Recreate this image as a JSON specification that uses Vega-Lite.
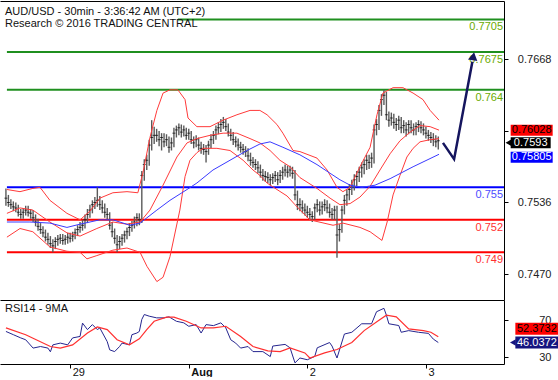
{
"$schema":"https://vega.github.io/schema/vega-lite/v6.json",
"padding":{"left":0,"top":1,"right":0,"bottom":0},
"background":"white",
"spacing":0,
"config":{"view":{"stroke":null},"font":"Liberation Sans","concat":{"spacing":0}},
"datasets":{
"bars":[
{"i":0,"h":0.7549,"l":0.7533,"c":0.7540},{"i":1,"h":0.7543,"l":0.7532,"c":0.7536},{"i":2,"h":0.7539,"l":0.7530,"c":0.7534},{"i":3,"h":0.7537,"l":0.7528,"c":0.7532},{"i":4,"h":0.7536,"l":0.7527,"c":0.7531},
{"i":5,"h":0.7534,"l":0.7523,"c":0.7527},{"i":6,"h":0.7530,"l":0.7521,"c":0.7525},{"i":7,"h":0.7531,"l":0.7521,"c":0.7527},{"i":8,"h":0.7533,"l":0.7524,"c":0.7529},{"i":9,"h":0.7533,"l":0.7523,"c":0.7527},
{"i":10,"h":0.7530,"l":0.7521,"c":0.7526},{"i":11,"h":0.7529,"l":0.7518,"c":0.7522},{"i":12,"h":0.7525,"l":0.7514,"c":0.7518},{"i":13,"h":0.7521,"l":0.7510,"c":0.7514},{"i":14,"h":0.7517,"l":0.7507,"c":0.7511},
{"i":15,"h":0.7514,"l":0.7504,"c":0.7508},{"i":16,"h":0.7511,"l":0.7500,"c":0.7504},{"i":17,"h":0.7508,"l":0.7497,"c":0.7502},{"i":18,"h":0.7505,"l":0.7494,"c":0.7498},{"i":19,"h":0.7502,"l":0.7490,"c":0.7496},
{"i":20,"h":0.7504,"l":0.7493,"c":0.7500},{"i":21,"h":0.7506,"l":0.7496,"c":0.7502},{"i":22,"h":0.7507,"l":0.7498,"c":0.7503},{"i":23,"h":0.7507,"l":0.7497,"c":0.7501},{"i":24,"h":0.7506,"l":0.7497,"c":0.7502},
{"i":25,"h":0.7508,"l":0.7498,"c":0.7504},{"i":26,"h":0.7508,"l":0.7499,"c":0.7503},{"i":27,"h":0.7509,"l":0.7500,"c":0.7505},{"i":28,"h":0.7512,"l":0.7502,"c":0.7508},{"i":29,"h":0.7515,"l":0.7505,"c":0.7511},
{"i":30,"h":0.7518,"l":0.7508,"c":0.7513},{"i":31,"h":0.7520,"l":0.7510,"c":0.7515},{"i":32,"h":0.7525,"l":0.7512,"c":0.7520},{"i":33,"h":0.7530,"l":0.7517,"c":0.7525},{"i":34,"h":0.7534,"l":0.7522,"c":0.7529},
{"i":35,"h":0.7538,"l":0.7526,"c":0.7534},{"i":36,"h":0.7541,"l":0.7530,"c":0.7536},{"i":37,"h":0.7550,"l":0.7532,"c":0.7538},{"i":38,"h":0.7542,"l":0.7529,"c":0.7534},{"i":39,"h":0.7538,"l":0.7526,"c":0.7531},
{"i":40,"h":0.7535,"l":0.7522,"c":0.7527},{"i":41,"h":0.7531,"l":0.7520,"c":0.7525},{"i":42,"h":0.7527,"l":0.7511,"c":0.7515},{"i":43,"h":0.7518,"l":0.7504,"c":0.7509},{"i":44,"h":0.7512,"l":0.7498,"c":0.7503},
{"i":45,"h":0.7506,"l":0.7490,"c":0.7497},{"i":46,"h":0.7505,"l":0.7493,"c":0.7500},{"i":47,"h":0.7507,"l":0.7496,"c":0.7503},{"i":48,"h":0.7510,"l":0.7499,"c":0.7506},{"i":49,"h":0.7513,"l":0.7502,"c":0.7509},
{"i":50,"h":0.7517,"l":0.7505,"c":0.7513},{"i":51,"h":0.7519,"l":0.7509,"c":0.7515},{"i":52,"h":0.7523,"l":0.7512,"c":0.7518},{"i":53,"h":0.7526,"l":0.7514,"c":0.7522},{"i":54,"h":0.7526,"l":0.7515,"c":0.7520},
{"i":55,"h":0.7565,"l":0.7517,"c":0.7561},{"i":56,"h":0.7576,"l":0.7556,"c":0.7571},{"i":57,"h":0.7580,"l":0.7566,"c":0.7575},{"i":58,"h":0.7594,"l":0.7570,"c":0.7589},{"i":59,"h":0.7612,"l":0.7584,"c":0.7596},
{"i":60,"h":0.7606,"l":0.7590,"c":0.7598},{"i":61,"h":0.7604,"l":0.7592,"c":0.7598},{"i":62,"h":0.7602,"l":0.7588,"c":0.7594},{"i":63,"h":0.7600,"l":0.7584,"c":0.7596},{"i":64,"h":0.7600,"l":0.7587,"c":0.7592},
{"i":65,"h":0.7599,"l":0.7588,"c":0.7594},{"i":66,"h":0.7597,"l":0.7582,"c":0.7587},{"i":67,"h":0.7596,"l":0.7584,"c":0.7591},{"i":68,"h":0.7605,"l":0.7587,"c":0.7600},{"i":69,"h":0.7607,"l":0.7596,"c":0.7603},
{"i":70,"h":0.7609,"l":0.7598,"c":0.7605},{"i":71,"h":0.7608,"l":0.7596,"c":0.7601},{"i":72,"h":0.7607,"l":0.7597,"c":0.7603},{"i":73,"h":0.7605,"l":0.7594,"c":0.7598},{"i":74,"h":0.7604,"l":0.7594,"c":0.7600},
{"i":75,"h":0.7602,"l":0.7590,"c":0.7594},{"i":76,"h":0.7597,"l":0.7586,"c":0.7591},{"i":77,"h":0.7598,"l":0.7587,"c":0.7594},{"i":78,"h":0.7596,"l":0.7584,"c":0.7589},{"i":79,"h":0.7592,"l":0.7581,"c":0.7586},
{"i":80,"h":0.7590,"l":0.7580,"c":0.7585},{"i":81,"h":0.7589,"l":0.7573,"c":0.7583},{"i":82,"h":0.7593,"l":0.7580,"c":0.7589},{"i":83,"h":0.7599,"l":0.7586,"c":0.7594},{"i":84,"h":0.7602,"l":0.7590,"c":0.7598},
{"i":85,"h":0.7607,"l":0.7594,"c":0.7603},{"i":86,"h":0.7610,"l":0.7599,"c":0.7605},{"i":87,"h":0.7613,"l":0.7601,"c":0.7608},{"i":88,"h":0.7615,"l":0.7604,"c":0.7610},{"i":89,"h":0.7613,"l":0.7602,"c":0.7606},
{"i":90,"h":0.7609,"l":0.7597,"c":0.7601},{"i":91,"h":0.7604,"l":0.7593,"c":0.7598},{"i":92,"h":0.7601,"l":0.7589,"c":0.7594},{"i":93,"h":0.7597,"l":0.7587,"c":0.7592},{"i":94,"h":0.7595,"l":0.7584,"c":0.7589},
{"i":95,"h":0.7592,"l":0.7582,"c":0.7587},{"i":96,"h":0.7590,"l":0.7580,"c":0.7585},{"i":97,"h":0.7588,"l":0.7578,"c":0.7583},{"i":98,"h":0.7586,"l":0.7574,"c":0.7579},{"i":99,"h":0.7582,"l":0.7570,"c":0.7575},
{"i":100,"h":0.7578,"l":0.7568,"c":0.7573},{"i":101,"h":0.7576,"l":0.7566,"c":0.7571},{"i":102,"h":0.7574,"l":0.7563,"c":0.7568},{"i":103,"h":0.7571,"l":0.7559,"c":0.7564},{"i":104,"h":0.7567,"l":0.7556,"c":0.7561},
{"i":105,"h":0.7565,"l":0.7555,"c":0.7560},{"i":106,"h":0.7564,"l":0.7554,"c":0.7559},{"i":107,"h":0.7562,"l":0.7552,"c":0.7557},{"i":108,"h":0.7563,"l":0.7553,"c":0.7559},{"i":109,"h":0.7565,"l":0.7555,"c":0.7561},
{"i":110,"h":0.7564,"l":0.7552,"c":0.7557},{"i":111,"h":0.7566,"l":0.7554,"c":0.7561},{"i":112,"h":0.7569,"l":0.7557,"c":0.7564},{"i":113,"h":0.7571,"l":0.7560,"c":0.7566},{"i":114,"h":0.7570,"l":0.7559,"c":0.7564},
{"i":115,"h":0.7570,"l":0.7560,"c":0.7566},{"i":116,"h":0.7569,"l":0.7558,"c":0.7563},{"i":117,"h":0.7566,"l":0.7538,"c":0.7543},{"i":118,"h":0.7547,"l":0.7529,"c":0.7534},{"i":119,"h":0.7540,"l":0.7528,"c":0.7534},
{"i":120,"h":0.7538,"l":0.7526,"c":0.7531},{"i":121,"h":0.7535,"l":0.7524,"c":0.7529},{"i":122,"h":0.7533,"l":0.7522,"c":0.7527},{"i":123,"h":0.7531,"l":0.7520,"c":0.7525},{"i":124,"h":0.7528,"l":0.7518,"c":0.7523},
{"i":125,"h":0.7535,"l":0.7520,"c":0.7531},{"i":126,"h":0.7539,"l":0.7527,"c":0.7534},{"i":127,"h":0.7537,"l":0.7524,"c":0.7529},{"i":128,"h":0.7537,"l":0.7525,"c":0.7532},{"i":129,"h":0.7539,"l":0.7528,"c":0.7534},
{"i":130,"h":0.7538,"l":0.7526,"c":0.7531},{"i":131,"h":0.7535,"l":0.7522,"c":0.7527},{"i":132,"h":0.7531,"l":0.7520,"c":0.7525},{"i":133,"h":0.7533,"l":0.7520,"c":0.7529},{"i":134,"h":0.7533,"l":0.7485,"c":0.7506},
{"i":135,"h":0.7516,"l":0.7500,"c":0.7511},{"i":136,"h":0.7533,"l":0.7508,"c":0.7529},{"i":137,"h":0.7543,"l":0.7525,"c":0.7538},{"i":138,"h":0.7548,"l":0.7533,"c":0.7543},{"i":139,"h":0.7553,"l":0.7538,"c":0.7548},
{"i":140,"h":0.7557,"l":0.7543,"c":0.7552},{"i":141,"h":0.7562,"l":0.7547,"c":0.7557},{"i":142,"h":0.7565,"l":0.7551,"c":0.7560},{"i":143,"h":0.7569,"l":0.7555,"c":0.7564},{"i":144,"h":0.7573,"l":0.7559,"c":0.7568},
{"i":145,"h":0.7576,"l":0.7562,"c":0.7571},{"i":146,"h":0.7580,"l":0.7566,"c":0.7575},{"i":147,"h":0.7580,"l":0.7567,"c":0.7573},{"i":148,"h":0.7582,"l":0.7568,"c":0.7577},{"i":149,"h":0.7608,"l":0.7572,"c":0.7603},
{"i":150,"h":0.7613,"l":0.7598,"c":0.7608},{"i":151,"h":0.7626,"l":0.7603,"c":0.7621},{"i":152,"h":0.7636,"l":0.7616,"c":0.7631},{"i":153,"h":0.7640,"l":0.7626,"c":0.7635},{"i":154,"h":0.7638,"l":0.7612,"c":0.7617},
{"i":155,"h":0.7620,"l":0.7606,"c":0.7612},{"i":156,"h":0.7619,"l":0.7607,"c":0.7614},{"i":157,"h":0.7618,"l":0.7604,"c":0.7610},{"i":158,"h":0.7614,"l":0.7602,"c":0.7608},{"i":159,"h":0.7616,"l":0.7603,"c":0.7612},
{"i":160,"h":0.7615,"l":0.7600,"c":0.7605},{"i":161,"h":0.7612,"l":0.7600,"c":0.7607},{"i":162,"h":0.7610,"l":0.7597,"c":0.7603},{"i":163,"h":0.7612,"l":0.7599,"c":0.7608},{"i":164,"h":0.7612,"l":0.7600,"c":0.7605},
{"i":165,"h":0.7609,"l":0.7598,"c":0.7603},{"i":166,"h":0.7610,"l":0.7598,"c":0.7606},{"i":167,"h":0.7612,"l":0.7601,"c":0.7608},{"i":168,"h":0.7611,"l":0.7600,"c":0.7605},{"i":169,"h":0.7609,"l":0.7598,"c":0.7603},
{"i":170,"h":0.7606,"l":0.7595,"c":0.7600},{"i":171,"h":0.7603,"l":0.7593,"c":0.7598},{"i":172,"h":0.7601,"l":0.7591,"c":0.7596},{"i":173,"h":0.7600,"l":0.7588,"c":0.7594},{"i":174,"h":0.7598,"l":0.7587,"c":0.7592},
{"i":175,"h":0.7597,"l":0.7585,"c":0.7593}
],
"bb":[
{"s":"u","i":0.4,"v":0.7548},{"s":"u","i":5.7,"v":0.7546},{"s":"u","i":10.9,"v":0.7549},{"s":"u","i":13.8,"v":0.7550},{"s":"u","i":17.8,"v":0.7538},{"s":"u","i":24.7,"v":0.7526},{"s":"u","i":30,"v":0.7520},{"s":"u","i":34,"v":0.7528},{"s":"u","i":38,"v":0.7540},{"s":"u","i":43.3,"v":0.7545},{"s":"u","i":49,"v":0.7546},{"s":"u","i":53.4,"v":0.7545},{"s":"u","i":55.5,"v":0.7564},{"s":"u","i":58.3,"v":0.7596},{"s":"u","i":61.1,"v":0.7621},{"s":"u","i":63.6,"v":0.7637},{"s":"u","i":66.4,"v":0.7640},{"s":"u","i":69.6,"v":0.7640},{"s":"u","i":72.5,"v":0.7631},{"s":"u","i":73.7,"v":0.7614},{"s":"u","i":77.3,"v":0.7606},{"s":"u","i":82.6,"v":0.7606},{"s":"u","i":87.9,"v":0.7612},{"s":"u","i":93.5,"v":0.7617},{"s":"u","i":98.8,"v":0.7621},{"s":"u","i":102.8,"v":0.7621},{"s":"u","i":105.7,"v":0.7617},{"s":"u","i":109.7,"v":0.7608},{"s":"u","i":112.1,"v":0.7600},{"s":"u","i":116.2,"v":0.7584},{"s":"u","i":119,"v":0.7583},{"s":"u","i":125.9,"v":0.7577},{"s":"u","i":130,"v":0.7566},{"s":"u","i":134,"v":0.7550},{"s":"u","i":136.4,"v":0.7546},{"s":"u","i":139.3,"v":0.7550},{"s":"u","i":143.3,"v":0.7569},{"s":"u","i":147.4,"v":0.7587},{"s":"u","i":150.2,"v":0.7617},{"s":"u","i":152.6,"v":0.7637},{"s":"u","i":156.7,"v":0.7642},{"s":"u","i":160.7,"v":0.7642},{"s":"u","i":164.8,"v":0.7637},{"s":"u","i":168.8,"v":0.7631},{"s":"u","i":171.7,"v":0.7621},{"s":"u","i":175.3,"v":0.7612},
{"s":"m","i":0.4,"v":0.7526},{"s":"m","i":5.7,"v":0.7531},{"s":"m","i":10.9,"v":0.7529},{"s":"m","i":17.8,"v":0.7518},{"s":"m","i":24.7,"v":0.7508},{"s":"m","i":30,"v":0.7505},{"s":"m","i":36.8,"v":0.7512},{"s":"m","i":43.3,"v":0.7518},{"s":"m","i":49,"v":0.7516},{"s":"m","i":54.3,"v":0.7518},{"s":"m","i":58.3,"v":0.7529},{"s":"m","i":63.6,"v":0.7552},{"s":"m","i":69.2,"v":0.7578},{"s":"m","i":73.3,"v":0.7591},{"s":"m","i":77.3,"v":0.7595},{"s":"m","i":82.6,"v":0.7598},{"s":"m","i":87.9,"v":0.7600},{"s":"m","i":93.5,"v":0.7600},{"s":"m","i":98.8,"v":0.7595},{"s":"m","i":102.8,"v":0.7591},{"s":"m","i":106.9,"v":0.7584},{"s":"m","i":110.9,"v":0.7575},{"s":"m","i":115,"v":0.7569},{"s":"m","i":119,"v":0.7559},{"s":"m","i":125.9,"v":0.7549},{"s":"m","i":131.2,"v":0.7540},{"s":"m","i":135.2,"v":0.7534},{"s":"m","i":139.3,"v":0.7535},{"s":"m","i":143.3,"v":0.7541},{"s":"m","i":147.4,"v":0.7551},{"s":"m","i":151.4,"v":0.7566},{"s":"m","i":155.5,"v":0.7581},{"s":"m","i":159.5,"v":0.7593},{"s":"m","i":163.6,"v":0.7601},{"s":"m","i":167.6,"v":0.7607},{"s":"m","i":171.7,"v":0.7606},{"s":"m","i":175.3,"v":0.76028},
{"s":"l","i":0.4,"v":0.7504},{"s":"l","i":5.7,"v":0.7512},{"s":"l","i":10.9,"v":0.7509},{"s":"l","i":17.8,"v":0.7495},{"s":"l","i":24.7,"v":0.7491},{"s":"l","i":30,"v":0.7490},{"s":"l","i":32.8,"v":0.7484},{"s":"l","i":36.8,"v":0.7487},{"s":"l","i":43.3,"v":0.7492},{"s":"l","i":49,"v":0.7494},{"s":"l","i":54.3,"v":0.7490},{"s":"l","i":57.1,"v":0.7477},{"s":"l","i":61.1,"v":0.7463},{"s":"l","i":63.6,"v":0.7467},{"s":"l","i":66.4,"v":0.7486},{"s":"l","i":70.4,"v":0.7529},{"s":"l","i":72.5,"v":0.7560},{"s":"l","i":74.5,"v":0.7575},{"s":"l","i":77.3,"v":0.7582},{"s":"l","i":79.8,"v":0.7586},{"s":"l","i":85.4,"v":0.7586},{"s":"l","i":90.7,"v":0.7584},{"s":"l","i":96,"v":0.7575},{"s":"l","i":100,"v":0.7566},{"s":"l","i":102.8,"v":0.7561},{"s":"l","i":105.7,"v":0.7554},{"s":"l","i":109.7,"v":0.7548},{"s":"l","i":113.8,"v":0.7542},{"s":"l","i":117,"v":0.7534},{"s":"l","i":123,"v":0.7520},{"s":"l","i":132.4,"v":0.7515},{"s":"l","i":136.4,"v":0.7517},{"s":"l","i":143.3,"v":0.7513},{"s":"l","i":147.4,"v":0.7509},{"s":"l","i":152.2,"v":0.7501},{"s":"l","i":154.3,"v":0.7518},{"s":"l","i":156.7,"v":0.7543},{"s":"l","i":159.5,"v":0.7561},{"s":"l","i":162.3,"v":0.7578},{"s":"l","i":164.8,"v":0.7586},{"s":"l","i":167.6,"v":0.7592},{"s":"l","i":171.7,"v":0.7594},{"s":"l","i":175.3,"v":0.7595}
],
"ma":[
{"i":0.4,"v":0.7518},{"i":9.7,"v":0.7518},{"i":17.8,"v":0.7517},{"i":24.7,"v":0.7513},{"i":30,"v":0.7516},{"i":38,"v":0.7520},{"i":43.3,"v":0.7520},{"i":50.2,"v":0.7515},{"i":54.3,"v":0.7517},{"i":61.1,"v":0.7529},{"i":66.4,"v":0.7538},{"i":73.3,"v":0.7548},{"i":77.3,"v":0.7554},{"i":83.8,"v":0.7566},{"i":90.7,"v":0.7575},{"i":97.6,"v":0.7584},{"i":102.8,"v":0.7590},{"i":106.9,"v":0.7592},{"i":112.1,"v":0.7587},{"i":119,"v":0.7580},{"i":125.9,"v":0.7571},{"i":131.2,"v":0.7563},{"i":135.2,"v":0.7557},{"i":139.3,"v":0.7552},{"i":144.1,"v":0.7550},{"i":149.4,"v":0.7552},{"i":155.5,"v":0.7558},{"i":164.8,"v":0.7569},{"i":175.3,"v":0.75805}
],
"levels":[
{"lv":0.7705,"start":69.6,"kind":"res","lab":"0.7705"},{"lv":0.7675,"start":0.4,"kind":"res","lab":"0.7675"},{"lv":0.764,"start":0.4,"kind":"res","lab":"0.764"},{"lv":0.755,"start":0.4,"kind":"piv","lab":"0.755"},{"lv":0.752,"start":0.4,"kind":"sup","lab":"0.752"},{"lv":0.749,"start":0.4,"kind":"sup","lab":"0.749"}
],
"arrow":[{"o":0,"i":176.9,"p":0.7591},{"o":1,"i":181.4,"p":0.7576},{"o":2,"i":188.8,"p":0.7666}],
"head":[{"i":189.2,"p":0.7671}],
"tags":[{"t":"0.76028","v":0.76028,"k":"bb"},{"t":"0.7593","v":0.7593,"k":"last"},{"t":"0.75805","v":0.75805,"k":"ma"}],
"rsi":[
{"i":0,"v":58},{"i":3,"v":54.5},{"i":6,"v":51},{"i":8,"v":49},{"i":11,"v":40},{"i":14,"v":41.7},{"i":17,"v":40},{"i":18,"v":36},{"i":19,"v":43.5},{"i":22,"v":45.4},{"i":25,"v":43.5},{"i":27,"v":51},{"i":30,"v":52.6},{"i":31,"v":67},{"i":33,"v":60},{"i":35,"v":65.4},{"i":37,"v":60},{"i":38,"v":61.8},{"i":41,"v":47},{"i":42,"v":38.1},{"i":44,"v":36.2},{"i":46,"v":41.7},{"i":47,"v":45.4},{"i":50,"v":43.5},{"i":51,"v":54.5},{"i":53,"v":56.3},{"i":54,"v":58},{"i":55,"v":71},{"i":56,"v":76.3},{"i":58,"v":74.5},{"i":61,"v":72.7},{"i":64,"v":72.7},{"i":66,"v":73.8},{"i":69,"v":69},{"i":72,"v":67.3},{"i":74,"v":63.6},{"i":77,"v":65.4},{"i":79,"v":56.3},{"i":81,"v":65.4},{"i":84,"v":64.3},{"i":87,"v":67.3},{"i":89,"v":61.8},{"i":91,"v":49},{"i":93,"v":45.4},{"i":95,"v":40},{"i":98,"v":41.7},{"i":100,"v":36.2},{"i":104,"v":36.2},{"i":107,"v":30.8},{"i":108,"v":42.2},{"i":113,"v":44},{"i":115,"v":40.3},{"i":117,"v":24},{"i":119,"v":29.3},{"i":122,"v":27.4},{"i":125,"v":31},{"i":126,"v":40.3},{"i":131,"v":46},{"i":132,"v":42.2},{"i":134,"v":29.3},{"i":137,"v":55.2},{"i":140,"v":57.1},{"i":144,"v":66.3},{"i":148,"v":66.3},{"i":150,"v":79.3},{"i":153,"v":83},{"i":154,"v":75.6},{"i":155,"v":66.3},{"i":159,"v":64.4},{"i":160,"v":57.1},{"i":163,"v":58.9},{"i":167,"v":57.1},{"i":171,"v":55.9},{"i":173,"v":49.7},{"i":175,"v":46.0372}
],
"rsima":[
{"i":0,"v":61.8},{"i":8,"v":54.5},{"i":18,"v":41.7},{"i":22,"v":40},{"i":27,"v":43.5},{"i":33,"v":56.3},{"i":37,"v":62.9},{"i":41,"v":60},{"i":45,"v":49},{"i":50,"v":43.5},{"i":54,"v":50},{"i":57,"v":60},{"i":60,"v":69},{"i":65,"v":73.4},{"i":68,"v":73.4},{"i":73,"v":69},{"i":79,"v":61.8},{"i":84,"v":61.8},{"i":89,"v":63.6},{"i":95,"v":52.6},{"i":100,"v":41.7},{"i":106,"v":37},{"i":111,"v":36.2},{"i":115,"v":40.3},{"i":121,"v":34.8},{"i":123,"v":29.3},{"i":129,"v":34.8},{"i":134,"v":38.5},{"i":140,"v":46},{"i":145,"v":58.9},{"i":151,"v":70},{"i":154,"v":75.6},{"i":158,"v":73.7},{"i":163,"v":60.7},{"i":169,"v":58.9},{"i":172,"v":57.1},{"i":175,"v":52.3732}
],
"rtags":[{"t":"52.3732","v":52.3732,"k":"ma"},{"t":"46.0372","v":46.0372,"k":"rsi"}]
},
"vconcat":[
{
"width":504,"height":299,
"title":{"text":"AUD/USD - 30min - 3:36:42 AM (UTC+2)","subtitle":"Research © 2016 TRADING CENTRAL","anchor":"start","frame":"group","offset":-28,"dx":5,"fontSize":11,"fontWeight":"normal","font":"Liberation Sans","color":"#111","subtitleFontSize":11,"subtitleFont":"Liberation Sans","subtitleColor":"#111","subtitlePadding":1},
"resolve":{"axis":{"x":"independent"}},
"layer":[
{"data":{"name":"levels"},"mark":{"type":"rule","strokeWidth":2},
 "encoding":{
  "x":{"field":"start","type":"quantitative","scale":{"domain":[-2.4,201.6],"nice":false,"zero":false},"axis":{"orient":"top","labels":false,"ticks":false,"domain":true,"domainColor":"#000","domainWidth":1,"grid":false,"title":null}},
  "x2":{"datum":201.6},
  "y":{"field":"lv","type":"quantitative","title":null,"scale":{"domain":[0.7446,0.7722],"nice":false,"zero":false},
   "axis":{"orient":"right","values":[0.747,0.7536,0.7602,0.7668],"format":".4f","labelExpr":"datum.value > 0.76 && datum.value < 0.761 ? '' : datum.label","labelAlign":"right","labelBaseline":"middle","labelPadding":43,"labelFontSize":11,"labelColor":"#222","labelFont":"Liberation Sans","labelOverlap":false,"labelFlush":false,"tickSize":4,"tickColor":"#000","domainColor":"#000","grid":false,"title":null}},
  "color":{"field":"kind","type":"nominal","scale":{"domain":["res","piv","sup"],"range":["#1f8f1f","#0000ff","#ff0000"]},"legend":null}
 }},
{"data":{"name":"levels"},"mark":{"type":"text","align":"right","baseline":"middle","dy":8,"fontSize":11,"font":"Liberation Sans"},
 "encoding":{
  "x":{"datum":201.2,"axis":null},
  "y":{"field":"lv","type":"quantitative","title":null},
  "text":{"field":"lab"},
  "fill":{"field":"kind","type":"nominal","scale":{"domain":["res","piv","sup"],"range":["#6aaa00","#4d4dff","#ff3030"]},"legend":null}
 }},
{"data":{"name":"bars"},"mark":{"type":"rule","color":"#5a5a5a","strokeWidth":1.4},
 "encoding":{
  "x":{"field":"i","type":"quantitative","axis":{"orient":"bottom","labels":false,"ticks":false,"domain":true,"domainColor":"#000","domainWidth":1,"grid":false,"title":null}},
  "y":{"field":"l","type":"quantitative","title":null},
  "y2":{"field":"h"}
 }},
{"data":{"name":"bars"},"mark":{"type":"tick","orient":"horizontal","color":"#000","size":3,"thickness":1},
 "encoding":{
  "x":{"field":"i","type":"quantitative","axis":null},
  "y":{"field":"c","type":"quantitative","title":null}
 }},
{"data":{"name":"bb"},"mark":{"type":"line","color":"#ff3a3a","strokeWidth":1},
 "encoding":{
  "x":{"field":"i","type":"quantitative","axis":null},
  "y":{"field":"v","type":"quantitative","title":null},
  "detail":{"field":"s"}
 }},
{"data":{"name":"ma"},"mark":{"type":"line","color":"#3a3aff","strokeWidth":1},
 "encoding":{
  "x":{"field":"i","type":"quantitative","axis":null},
  "y":{"field":"v","type":"quantitative","title":null}
 }},
{"data":{"name":"arrow"},"mark":{"type":"line","color":"#15155e","strokeWidth":2.5},
 "encoding":{
  "x":{"field":"i","type":"quantitative","axis":null},
  "y":{"field":"p","type":"quantitative","title":null},
  "order":{"field":"o"}
 }},
{"data":{"name":"head"},"mark":{"type":"point","shape":"triangle-up","filled":true,"opacity":1,"size":90,"angle":10,"color":"#15155e"},
 "encoding":{
  "x":{"field":"i","type":"quantitative","axis":null},
  "y":{"field":"p","type":"quantitative","title":null}
 }},
{"data":{"name":"tags"},"transform":[{"filter":"datum.k == 'bb'"}],"mark":{"type":"tick","orient":"horizontal","color":"#ff0000","size":42,"thickness":11,"opacity":1},
 "encoding":{"x":{"datum":212.8,"axis":null},"y":{"field":"v","type":"quantitative","title":null}}},
{"data":{"name":"tags"},"transform":[{"filter":"datum.k == 'ma'"}],"mark":{"type":"tick","orient":"horizontal","color":"#0000ff","size":42,"thickness":11,"opacity":1,"yOffset":3},
 "encoding":{"x":{"datum":212.8,"axis":null},"y":{"field":"v","type":"quantitative","title":null}}},
{"data":{"name":"tags"},"transform":[{"filter":"datum.k == 'last'"}],"mark":{"type":"tick","orient":"horizontal","color":"#000000","size":40,"thickness":11,"opacity":1,"yOffset":2},
 "encoding":{"x":{"datum":212.4,"axis":null},"y":{"field":"v","type":"quantitative","title":null}}},
{"data":{"name":"tags"},"transform":[{"filter":"datum.k == 'last'"}],"mark":{"type":"point","shape":"triangle-left","filled":true,"opacity":1,"size":45,"color":"#000000","yOffset":2},
 "encoding":{"x":{"datum":203.4,"axis":null},"y":{"field":"v","type":"quantitative","title":null}}},
{"data":{"name":"tags"},"transform":[{"filter":"datum.k == 'bb'"}],"mark":{"type":"text","align":"center","baseline":"middle","fontSize":11,"font":"Liberation Sans","color":"#000"},
 "encoding":{"x":{"datum":212.8,"axis":null},"y":{"field":"v","type":"quantitative","title":null},"text":{"field":"t"}}},
{"data":{"name":"tags"},"transform":[{"filter":"datum.k == 'last'"}],"mark":{"type":"text","align":"center","baseline":"middle","fontSize":11,"font":"Liberation Sans","color":"#fff","yOffset":2},
 "encoding":{"x":{"datum":212.4,"axis":null},"y":{"field":"v","type":"quantitative","title":null},"text":{"field":"t"}}},
{"data":{"name":"tags"},"transform":[{"filter":"datum.k == 'ma'"}],"mark":{"type":"text","align":"center","baseline":"middle","fontSize":11,"font":"Liberation Sans","color":"#fff","yOffset":3},
 "encoding":{"x":{"datum":212.8,"axis":null},"y":{"field":"v","type":"quantitative","title":null},"text":{"field":"t"}}}
]
},
{
"width":504,"height":64,
"title":{"text":"RSI14 - 9MA","anchor":"start","frame":"group","offset":-14,"dx":5,"fontSize":11,"fontWeight":"normal","font":"Liberation Sans","color":"#111"},
"layer":[
{"data":{"name":"rsi"},"mark":{"type":"line","color":"#25258f","strokeWidth":1},
 "encoding":{
  "x":{"field":"i","type":"quantitative","scale":{"domain":[-2.4,201.6],"nice":false,"zero":false},
   "axis":{"orient":"bottom","values":[26,74,122,170],"labelExpr":"datum.value == 26 ? '29' : datum.value == 74 ? 'Aug' : datum.value == 122 ? '2' : '3'","labelAlign":"left","labelBaseline":"top","labelPadding":-2,"labelOffset":2,"labelFontSize":11,"labelColor":"#111","labelFont":"Liberation Sans","labelFontWeight":{"condition":{"test":"datum.value == 74","value":"bold"},"value":"normal"},"labelOverlap":false,"labelFlush":false,"tickSize":4,"tickColor":"#000","domainColor":"#000","grid":false,"title":null}},
  "y":{"field":"v","type":"quantitative","title":null,"scale":{"domain":[22.8,92],"nice":false,"zero":false},
   "axis":{"orient":"right","values":[30,70],"labelAlign":"right","labelBaseline":"middle","labelPadding":43,"labelFontSize":11,"labelColor":"#222","labelFont":"Liberation Sans","labelOverlap":false,"labelFlush":false,"tickSize":4,"tickColor":"#000","domainColor":"#000","grid":false,"title":null}}
 }},
{"data":{"name":"rsima"},"mark":{"type":"line","color":"#ff3030","strokeWidth":1.2},
 "encoding":{"x":{"field":"i","type":"quantitative"},"y":{"field":"v","type":"quantitative","title":null}}},
{"data":{"name":"rtags"},"transform":[{"filter":"datum.k == 'ma'"}],"mark":{"type":"tick","orient":"horizontal","color":"#ff0000","size":43,"thickness":12,"opacity":1,"yOffset":-8},
 "encoding":{"x":{"datum":214.9},"y":{"field":"v","type":"quantitative","title":null}}},
{"data":{"name":"rtags"},"transform":[{"filter":"datum.k == 'rsi'"}],"mark":{"type":"tick","orient":"horizontal","color":"#151580","size":43,"thickness":12,"opacity":1},
 "encoding":{"x":{"datum":214.9},"y":{"field":"v","type":"quantitative","title":null}}},
{"data":{"name":"rtags"},"transform":[{"filter":"datum.k == 'rsi'"}],"mark":{"type":"point","shape":"triangle-left","filled":true,"opacity":1,"size":45,"color":"#151580"},
 "encoding":{"x":{"datum":205.2},"y":{"field":"v","type":"quantitative","title":null}}},
{"data":{"name":"rtags"},"transform":[{"filter":"datum.k == 'ma'"}],"mark":{"type":"text","align":"center","baseline":"middle","fontSize":11,"font":"Liberation Sans","color":"#000","yOffset":-8},
 "encoding":{"x":{"datum":214.9},"y":{"field":"v","type":"quantitative","title":null},"text":{"field":"t"}}},
{"data":{"name":"rtags"},"transform":[{"filter":"datum.k == 'rsi'"}],"mark":{"type":"text","align":"center","baseline":"middle","fontSize":11,"font":"Liberation Sans","color":"#fff"},
 "encoding":{"x":{"datum":214.9},"y":{"field":"v","type":"quantitative","title":null},"text":{"field":"t"}}}
]
}
]
}
